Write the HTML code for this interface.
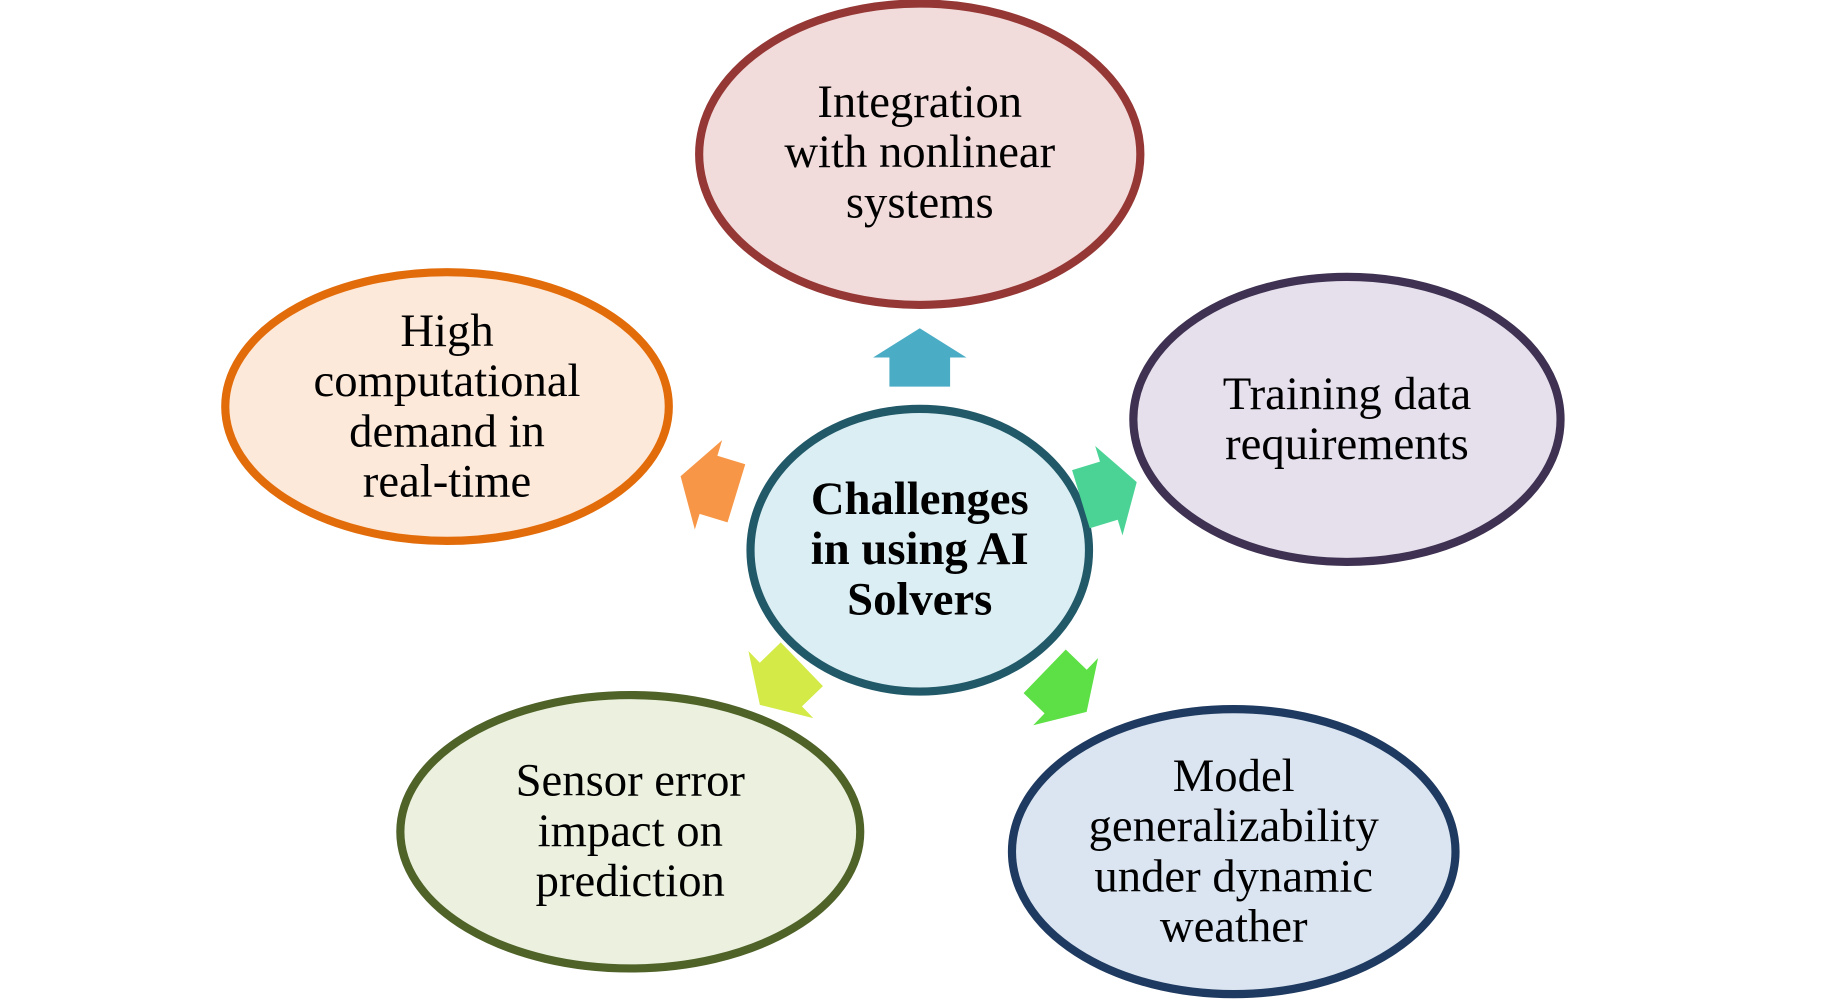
<!DOCTYPE html>
<html><head><meta charset="utf-8"><style>
html,body{margin:0;padding:0;background:#fff;}
svg{display:block;}
text{font-family:"Liberation Serif",serif;font-size:40px;fill:#000;text-anchor:middle;}
</style></head><body>
<svg width="1829" height="1007" viewBox="0 0 1567 862" preserveAspectRatio="none" xmlns="http://www.w3.org/2000/svg">
<defs>
<polygon id="arr" points="0,-25 40,0 26,0 26,25 -26,25 -26,0 -40,0"/>
</defs>
<ellipse cx="788" cy="132" rx="189" ry="129" fill="#f2dcdb" stroke="#953735" stroke-width="7"/>
<ellipse cx="383" cy="348" rx="190" ry="115" fill="#fde9d9" stroke="#e36c0a" stroke-width="7"/>
<ellipse cx="1154" cy="359" rx="183" ry="122" fill="#e5e0ec" stroke="#3f3151" stroke-width="7"/>
<ellipse cx="540" cy="712" rx="197" ry="117" fill="#ebf1de" stroke="#4f6228" stroke-width="7"/>
<ellipse cx="1057" cy="729" rx="190" ry="122" fill="#dbe5f1" stroke="#1f3a60" stroke-width="7"/>
<ellipse cx="788" cy="471" rx="145" ry="121" fill="#dbeef3" stroke="#215968" stroke-width="7"/>

<use href="#arr" fill="#4bacc6" transform="translate(788,306)"/>
<use href="#arr" fill="#f79646" transform="translate(607,415) rotate(-73)"/>
<use href="#arr" fill="#4bd396" transform="translate(950,420) rotate(73)"/>
<use href="#arr" fill="#d3ea47" transform="translate(669,586) rotate(-134)"/>
<use href="#arr" fill="#5de045" transform="translate(913,592) rotate(134)"/>

<text x="788" y="100">Integration</text>
<text x="788" y="143">with nonlinear</text>
<text x="788" y="186">systems</text>

<text x="383" y="296">High</text>
<text x="383" y="339">computational</text>
<text x="383" y="382">demand in</text>
<text x="383" y="425">real-time</text>

<text x="1154" y="350">Training data</text>
<text x="1154" y="393">requirements</text>

<text x="540" y="681">Sensor error</text>
<text x="540" y="724">impact on</text>
<text x="540" y="767">prediction</text>

<text x="1057" y="677">Model</text>
<text x="1057" y="720">generalizability</text>
<text x="1057" y="763">under dynamic</text>
<text x="1057" y="806">weather</text>

<text x="788" y="440" font-weight="bold">Challenges</text>
<text x="788" y="483" font-weight="bold">in using AI</text>
<text x="788" y="526" font-weight="bold">Solvers</text>
</svg>
</body></html>
